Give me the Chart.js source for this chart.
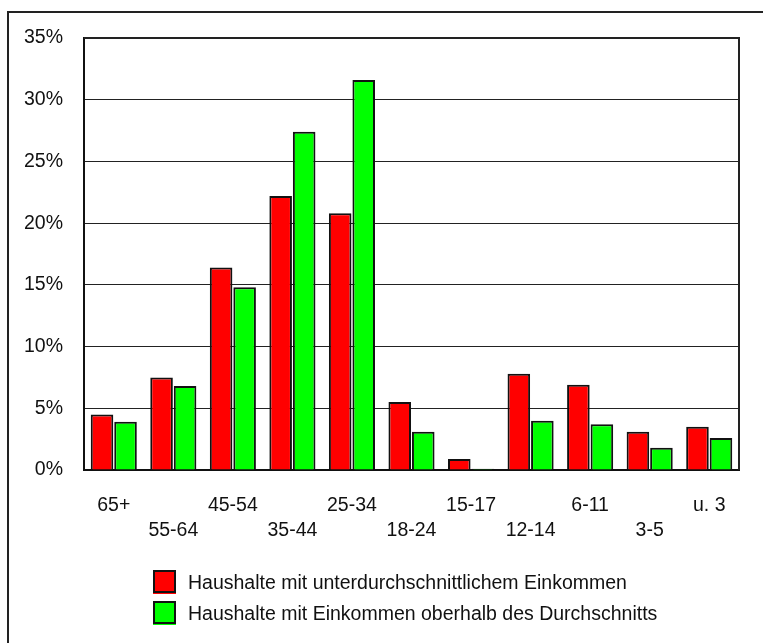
<!DOCTYPE html>
<html>
<head>
<meta charset="utf-8">
<script src="https://cdn.jsdelivr.net/npm/chart.js@4"></script>
<style>
  html, body { margin: 0; padding: 0; background: #fff; }
  #wrap { width: 763px; height: 643px; position: relative; }
</style>
</head>
<body>
<div id="wrap"><canvas id="chartCanvas" width="763" height="643"></canvas></div>
<script>
// Altersgruppen (Kinder / Haushaltsvorstand)
const altersgruppen = ["65+", "55-64", "45-54", "35-44", "25-34", "18-24", "15-17", "12-14", "6-11", "3-5", "u. 3"];
const unterDurchschnitt = [4.5, 7.5, 16.4, 22.2, 20.8, 5.5, 0.9, 7.8, 6.9, 3.1, 3.5];
const ueberDurchschnitt = [3.9, 6.8, 14.8, 27.4, 31.6, 3.1, 0.1, 4.0, 3.7, 1.8, 2.6];
const yTicks = [0, 5, 10, 15, 20, 25, 30, 35];
const serienNamen = [
  "Haushalte mit unterdurchschnittlichem Einkommen",
  "Haushalte mit Einkommen oberhalb des Durchschnitts",
];

const schrift = "'Liberation Sans', Arial, sans-serif";

// Rahmen links/oben, Plotrahmen, Legende unten links
const rahmenPlugin = {
  id: "rahmen",
  afterDraw(chart) {
    const ctx = chart.ctx;
    const a = chart.chartArea;
    ctx.save();
    ctx.strokeStyle = "#222";
    ctx.lineWidth = 2;
    ctx.beginPath();
    ctx.moveTo(8, 643);
    ctx.lineTo(8, 12);
    ctx.lineTo(763, 12);
    ctx.stroke();

    ctx.beginPath();
    ctx.moveTo(a.left, a.top);
    ctx.lineTo(a.right, a.top);
    ctx.lineTo(a.right, a.bottom);
    ctx.stroke();

    // Legende
    const ys = [581, 612];
    chart.data.datasets.forEach((ds, i) => {
      const y = ys[i];
      ctx.fillStyle = ds.backgroundColor;
      ctx.fillRect(153, y - 11, 23, 23);
      ctx.fillRect(153, y + 12, 23, 1);
      ctx.strokeStyle = "#111";
      ctx.lineWidth = 2;
      ctx.strokeRect(154, y - 10, 21, 21);
      ctx.fillStyle = "#111";
      ctx.font = "19.5px " + schrift;
      ctx.textBaseline = "middle";
      ctx.textAlign = "left";
      ctx.fillText(ds.label, 188, y + 3);
    });
    ctx.restore();
  },
};

const ctx = document.getElementById("chartCanvas").getContext("2d");
new Chart(ctx, {
  type: "bar",
  data: {
    labels: altersgruppen,
    datasets: [
      {
        label: serienNamen[0],
        data: unterDurchschnitt,
        backgroundColor: "#ff0000",
        borderColor: "#111",
        borderWidth: 2,
        categoryPercentage: 0.79,
        barPercentage: 0.96,
      },
      {
        label: serienNamen[1],
        data: ueberDurchschnitt,
        backgroundColor: "#00ff00",
        borderColor: "#111",
        borderWidth: 2,
        categoryPercentage: 0.79,
        barPercentage: 0.96,
      },
    ],
  },
  options: {
    responsive: false,
    animation: false,
    layout: { padding: { left: 0, top: 38, right: 24, bottom: 0 } },
    plugins: {
      legend: { display: false },
      tooltip: { enabled: false },
    },
    scales: {
      x: {
        grid: { display: false, drawTicks: false },
        border: { display: true, color: "#111", width: 2 },
        afterFit: (s) => { s.height = 173; },
        ticks: {
          autoSkip: false,
          maxRotation: 0,
          padding: 23,
          color: "#111",
          font: { family: schrift, size: 19.5, lineHeight: 1.28 },
          callback: function (val, i) {
            const txt = altersgruppen[i];
            return i % 2 === 0 ? [txt] : ["", txt];
          },
        },
      },
      y: {
        min: 0,
        max: 35,
        afterFit: (s) => { s.width = 84; },
        afterBuildTicks: (s) => { s.ticks = yTicks.map((v) => ({ value: v })); },
        grid: { color: "#222", lineWidth: 1, drawTicks: false },
        border: { display: true, color: "#111", width: 2 },
        ticks: {
          padding: 21,
          color: "#111",
          font: { family: schrift, size: 19.5 },
          callback: (v) => v + "%",
        },
      },
    },
  },
  plugins: [rahmenPlugin],
});
</script>
</body>
</html>
